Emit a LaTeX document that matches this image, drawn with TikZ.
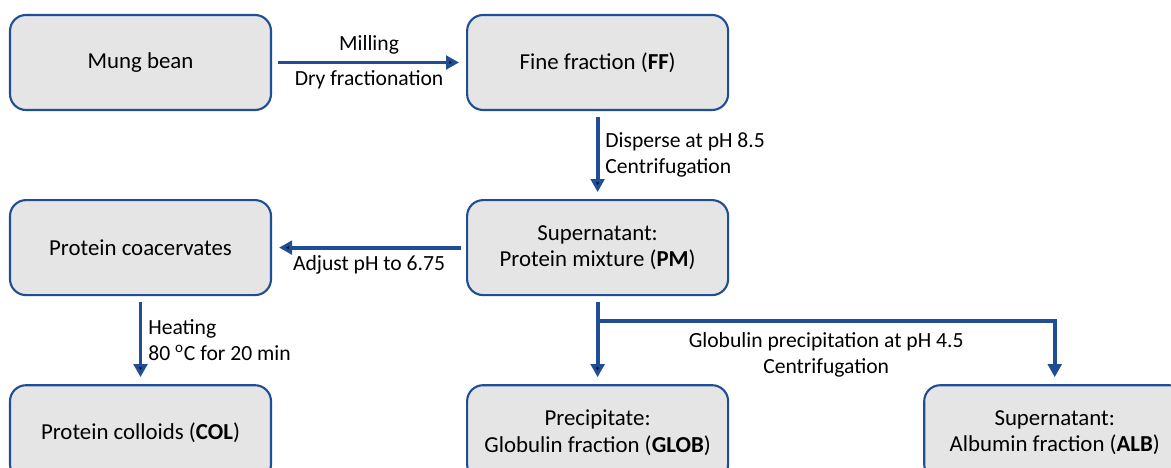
\documentclass[tikz,border=0pt]{standalone}
\usepackage{fontspec}
\setmainfont{Carlito}
\usetikzlibrary{arrows.meta,positioning}
\definecolor{flowblue}{HTML}{1F4E96}
\definecolor{boxgray}{HTML}{E5E5E5}

\begin{document}
\begin{tikzpicture}[auto,node distance=1.76cm and 3.88cm,font=\fontsize{12.3}{14.6}\selectfont,
  stage/.style={draw=flowblue,line width=1.2pt,fill=boxgray,rounded corners=0.32cm,
    minimum width=5.22cm,minimum height=1.9cm,align=center,font=\fontsize{13}{15}\selectfont},
  flow/.style={-{Triangle[length=0.26cm,width=0.27cm]},draw=flowblue,line width=2.2pt,
    shorten >=0.14cm,shorten <=0.11cm}]
  \useasboundingbox (0,0) rectangle (23.42,-9.36);

  \node[stage] (bean) at (2.81,-1.25) {Mung bean};
  \node[stage] (ff)   [right=of bean] {Fine fraction (\textbf{FF})};
  \node[stage] (pm)   [below=of ff]   {Supernatant:\\Protein mixture (\textbf{PM})};
  \node[stage] (coac) [below=of bean] {Protein coacervates};
  \node[stage] (col)  [below=of coac] {Protein colloids (\textbf{COL})};
  \node[stage] (glob) [below=of pm]   {Precipitate:\\Globulin fraction (\textbf{GLOB})};
  \node[stage] (alb)  [right=of glob] {Supernatant:\\Albumin fraction (\textbf{ALB})};
  \coordinate[below=0.5cm of pm] (fork);

  \path[flow] (bean) edge node {Milling} node[swap] {Dry fractionation} (ff)
        (ff) edge node[align=left] {Disperse at pH 8.5\\Centrifugation} (pm)
        (pm) edge node {Adjust pH to 6.75} (coac)
        (coac) edge node[align=left] {Heating\\80 \textsuperscript{o}C for 20 min} (col)
        (pm) edge (glob);
  \draw[flow,shorten <=0pt] (fork) -| node[pos=0.25,below,align=center,yshift=-2pt]
    {Globulin precipitation at pH 4.5\\Centrifugation} (alb.north);
\end{tikzpicture}
\end{document}
